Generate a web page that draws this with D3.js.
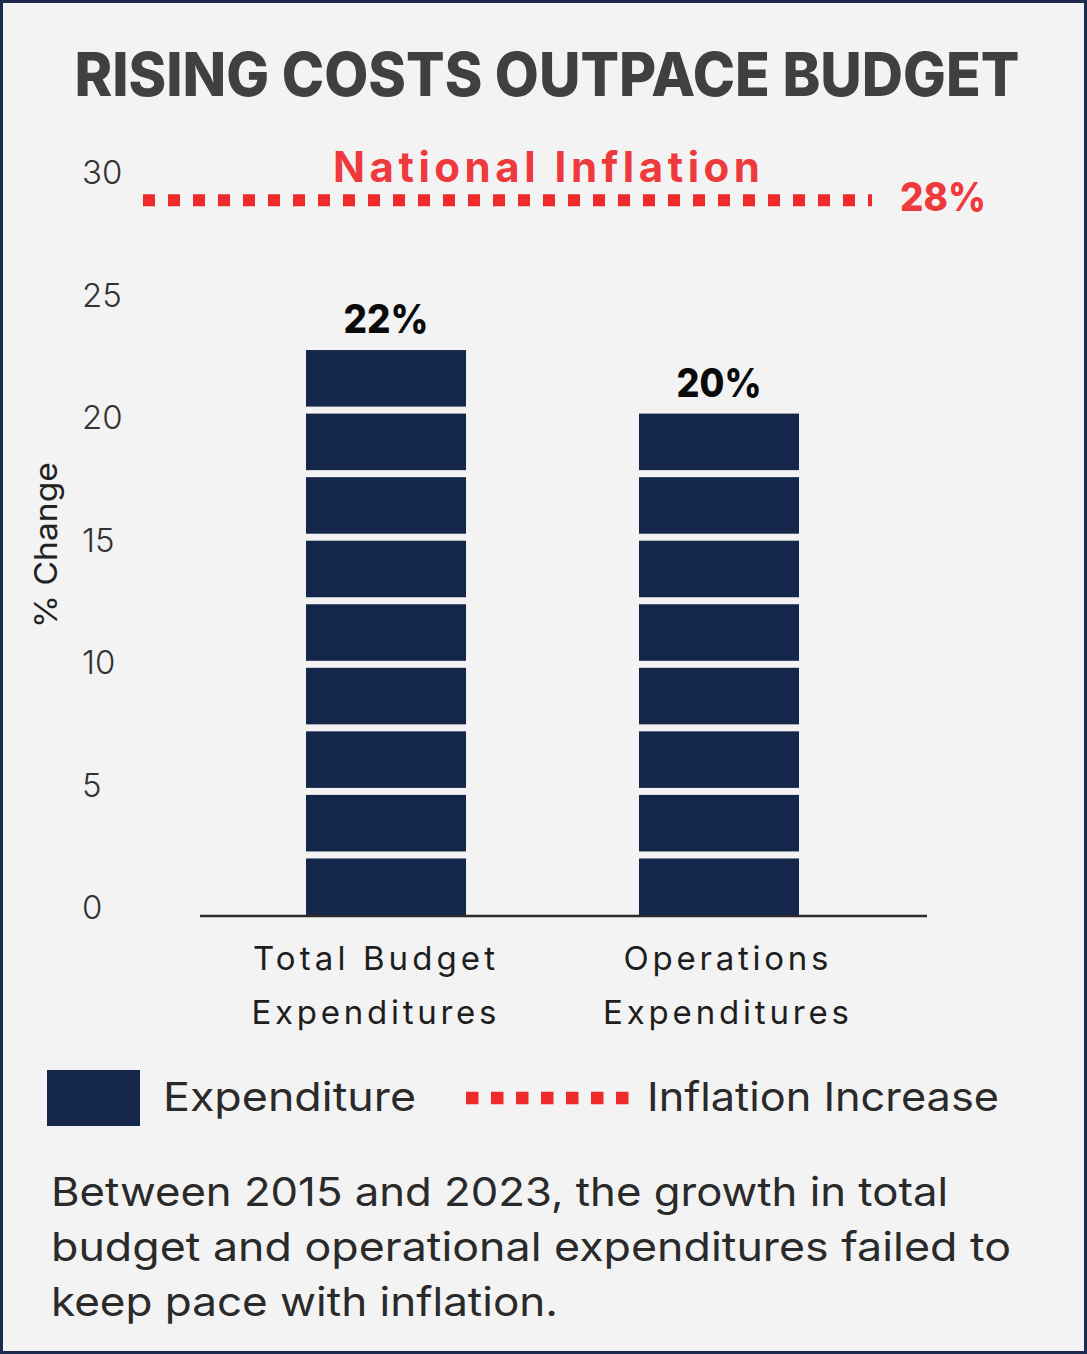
<!DOCTYPE html>
<html>
<head>
<meta charset="utf-8">
<script src="https://cdn.jsdelivr.net/npm/d3@7"></script>
<style>
  html, body { margin: 0; padding: 0; background: #f3f3f3; }
  svg { display: block; }
  text { font-family: Inter, "Open Sans", "Noto Sans", sans-serif; }
</style>
</head>
<body>
<div id="chart"></div>
<script>
// ---- data ----
const categories = ["Total Budget Expenditures", "Operations Expenditures"];
const categoryLines = [["Total Budget", "Expenditures"], ["Operations", "Expenditures"]];
const values = [22, 20];
const valueLabels = ["22%", "20%"];
const inflationValue = 28;
const inflationLabel = "28%";
const yTicks = [0, 5, 10, 15, 20, 25, 30];
const blockSize = 2.5; // each stacked block represents 2.5 points
const titleText = "RISING COSTS OUTPACE BUDGET";
const footnoteLines = [
  "Between 2015 and 2023, the growth in total",
  "budget and operational expenditures failed to",
  "keep pace with inflation."
];

// ---- layout ----
const W = 1087, H = 1354;
const navy = "#14264a", red = "#ee2a2b", redText = "#ee3a3d";

const svg = d3.select("#chart").append("svg")
  .attr("width", W).attr("height", H);

svg.append("rect")
  .attr("x", 1.5).attr("y", 1.5).attr("width", W - 3).attr("height", H - 3)
  .attr("fill", "#f3f3f3").attr("stroke", "#1c2b4d").attr("stroke-width", 3);

// title
svg.append("text")
  .attr("x", 547).attr("y", 96)
  .attr("text-anchor", "middle")
  .attr("font-size", 61).attr("font-weight", 800)
  .attr("fill", "#404040")
  .attr("textLength", 945).attr("lengthAdjust", "spacingAndGlyphs")
  .text(titleText);

// scales
const y = d3.scaleLinear().domain([0, 30]).range([915, 915 - 30 * 25.42]);
const yLabel = d3.scaleLinear().domain([0, 30]).range([919, 184]);
const x = d3.scaleBand().domain(categories).range([306, 799])
  .paddingInner(0.5195).paddingOuter(0);

// y tick labels
svg.append("g").selectAll("text").data(yTicks).join("text")
  .attr("x", 82).attr("y", d => yLabel(d))
  .attr("font-size", 33).attr("font-weight", 300)
  .attr("fill", "#333")
  .text(d => d);

// y axis title
svg.append("text")
  .attr("transform", "translate(57,545) rotate(-90)")
  .attr("text-anchor", "middle")
  .attr("font-size", 31).attr("font-weight", 400)
  .attr("fill", "#222")
  .attr("textLength", 166).attr("lengthAdjust", "spacingAndGlyphs")
  .text("% Change");

// stacked blocks
const gap = 7;
const blocks = [];
categories.forEach((c, i) => {
  const n = Math.ceil(values[i] / blockSize);
  for (let k = 0; k < n; k++) blocks.push({ c, lo: k * blockSize, hi: (k + 1) * blockSize });
});
svg.append("g").selectAll("rect").data(blocks).join("rect")
  .attr("x", d => x(d.c))
  .attr("width", x.bandwidth())
  .attr("y", d => y(d.hi) + gap)
  .attr("height", d => y(d.lo) - y(d.hi) - gap)
  .attr("fill", navy);

// value labels
svg.append("g").selectAll("text").data(categories).join("text")
  .attr("x", d => x(d) + x.bandwidth() / 2)
  .attr("y", (d, i) => y(Math.ceil(values[i] / blockSize) * blockSize) + gap - 17)
  .attr("text-anchor", "middle")
  .attr("font-size", 39).attr("font-weight", 800)
  .attr("fill", "#0a0a0a")
  .attr("textLength", 85).attr("lengthAdjust", "spacingAndGlyphs")
  .text((d, i) => valueLabels[i]);

// baseline
svg.append("line")
  .attr("x1", 200).attr("x2", 927)
  .attr("y1", y(0) + 1).attr("y2", y(0) + 1)
  .attr("stroke", "#2b2b2b").attr("stroke-width", 2.5);

// category labels
const catLens = [[242, 245], [205, 246]];
const catG = svg.append("g").selectAll("g").data(categories).join("g");
catG.each(function (d, i) {
  const g = d3.select(this);
  categoryLines[i].forEach((ln, j) => {
    g.append("text")
      .attr("x", x(d) + x.bandwidth() / 2 + (i === 0 ? -12 : 7))
      .attr("y", 970 + j * 54)
      .attr("text-anchor", "middle")
      .attr("font-size", 33).attr("font-weight", 400)
      .attr("fill", "#1e1e1e")
      .attr("textLength", catLens[i][j]).attr("lengthAdjust", "spacing")
      .text(ln);
  });
});

// inflation line
const inflY = y(inflationValue) - 3;
svg.append("line")
  .attr("x1", 143).attr("x2", 872)
  .attr("y1", inflY).attr("y2", inflY)
  .attr("stroke", red).attr("stroke-width", 12)
  .attr("stroke-dasharray", "12 13");

svg.append("text")
  .attr("x", 546.5).attr("y", 182)
  .attr("text-anchor", "middle")
  .attr("font-size", 42).attr("font-weight", 700)
  .attr("fill", redText)
  .attr("textLength", 427).attr("lengthAdjust", "spacing")
  .text("National Inflation");

svg.append("text")
  .attr("x", 900).attr("y", 211)
  .attr("font-size", 40).attr("font-weight", 800)
  .attr("fill", redText)
  .attr("textLength", 86).attr("lengthAdjust", "spacingAndGlyphs")
  .text(inflationLabel);

// legend
svg.append("rect")
  .attr("x", 47).attr("y", 1070).attr("width", 93).attr("height", 56)
  .attr("fill", navy);
svg.append("text")
  .attr("x", 163).attr("y", 1111)
  .attr("font-size", 40).attr("font-weight", 400)
  .attr("fill", "#2a2a2a")
  .attr("textLength", 253).attr("lengthAdjust", "spacingAndGlyphs")
  .text("Expenditure");
svg.append("line")
  .attr("x1", 466).attr("x2", 629)
  .attr("y1", 1098).attr("y2", 1098)
  .attr("stroke", red).attr("stroke-width", 12.5)
  .attr("stroke-dasharray", "12.5 12.5");
svg.append("text")
  .attr("x", 647).attr("y", 1111)
  .attr("font-size", 40).attr("font-weight", 400)
  .attr("fill", "#2a2a2a")
  .attr("textLength", 352).attr("lengthAdjust", "spacingAndGlyphs")
  .text("Inflation Increase");

// footnote
const footLens = [897, 960, 507];
svg.append("g").selectAll("text").data(footnoteLines).join("text")
  .attr("x", 51).attr("y", (d, i) => 1206 + i * 55)
  .attr("font-size", 40).attr("font-weight", 400)
  .attr("fill", "#2a2a2a")
  .attr("textLength", (d, i) => footLens[i]).attr("lengthAdjust", "spacingAndGlyphs")
  .text(d => d);
</script>
</body>
</html>
